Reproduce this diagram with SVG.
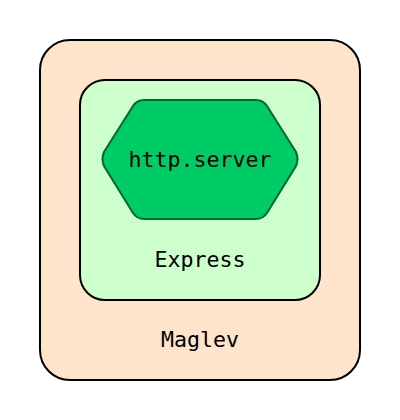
<svg xmlns="http://www.w3.org/2000/svg" width="400" height="420" viewBox="0 0 400 420">
<style>
.lbl{font-family:"DejaVu Sans Mono","Liberation Mono",monospace;font-size:21.6px;fill:#000;text-anchor:middle}
</style>
<rect width="400" height="420" fill="#fff"/>
<g id="maglev">
<rect x="40" y="40" width="320" height="340" rx="30" ry="30" fill="#ffe4cc" stroke="#000" stroke-width="2"/>
<text class="lbl" x="200" y="347">Maglev</text>
</g>
<g id="express">
<rect x="80" y="80" width="240" height="220" rx="25" ry="25" fill="#ccffcc" stroke="#000" stroke-width="2"/>
<text class="lbl" x="200" y="267">Express</text>
</g>
<g id="http-server">
<path d="M144,100 L256,100 Q263,100 267,106 L296,152 Q299,159 296,166 L267,213 Q263,219 256,219 L144,219 Q137,219 133,213 L104,166 Q101,159 104,152 L133,106 Q137,100 144,100 Z" fill="#00cc66" stroke="#006633" stroke-width="2"/>
<text class="lbl" x="200" y="167">http.server</text>
</g>
<g id="connectors"/>
</svg>
